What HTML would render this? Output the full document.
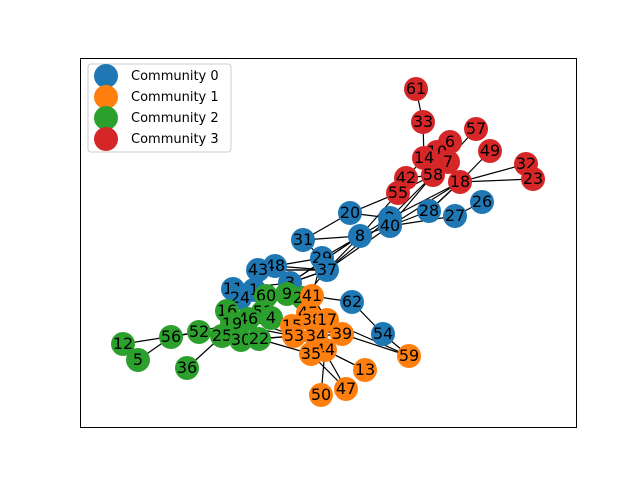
<!DOCTYPE html>
<html><head><meta charset="utf-8"><style>
body{margin:0;background:#fff;}
svg{display:block;font-family:"DejaVu Sans","Liberation Sans",sans-serif;}
</style></head><body>
<svg id="chart" width="640" height="480">
<rect x="0" y="0" width="640" height="480" fill="#fff"/>
<rect x="80.5" y="58.5" width="496" height="369" fill="none" stroke="#000" stroke-width="1"/>
<g id="edges"></g>
<g id="nodes"></g>
<g>
<rect x="88" y="64" width="143" height="88" rx="3" fill="#fff" fill-opacity="0.8" stroke="#ccc"/>
<g id="legend"></g>
</g>
</svg>
<script>
// layout coordinates (abstract units) per node
const nodeIds = [61,33,57,6,10,49,14,7,32,58,42,23,18,55,26,20,28,27,2,40,8,31,29,48,37,43,3,11,1,24,62,54,60,9,21,51,4,16,46,19,52,56,25,30,22,12,5,36,41,45,38,17,15,39,53,34,44,35,13,59,50,47];
const nodeX = [416,423,476,450,437,490,424,448,526,433,406,533,460,398,482,350,429,455,390,390,360,303,322,275,327,258,290,233,254,240,352,383,266,287,303,263,271,227,248,232,199,171,222,241,259,123,138,187,312,308,312,327,292,342,294,316,325,311,365,409,321,346];
const nodeY = [89,122,129,142,152,151,158,162,164,175,178,179,182,193,202,213,211,216,218,226,236,240,258,266,270,270,283,289,290,298,302,334,296,294,298,312,318,311,319,324,332,337,336,340,339,344,360,368,296,313,320,320,326,334,336,336,350,354,370,356,395,389];
const nodeCommunity = [3,3,3,3,3,3,3,3,3,3,3,3,3,3,0,0,0,0,0,0,0,0,0,0,0,0,0,0,0,0,0,0,2,2,2,2,2,2,2,2,2,2,2,2,2,2,2,2,1,1,1,1,1,1,1,1,1,1,1,1,1,1];
const edgeSource = [61,33,57,49,32,23,18,18,58,58,42,55,55,26,28,20,20,8,8,8,40,2,31,29,48,43,3,54,54,62,39,13,50,47,47,12,5,56,36,52,25,16,19,10,6,14,7,18,58,2,40,8,37,37,29,3,1,11,24,60,9,21,41,45,15,53,53,30,22,22,34,44,38,17,46,51,4,35,42,28,40,3,37,1];
const edgeTarget = [33,14,58,18,18,18,28,40,40,2,14,20,8,27,40,2,31,31,29,37,37,37,29,48,37,37,37,62,59,41,59,44,44,35,34,52,56,52,25,22,22,53,53,58,58,58,58,2,55,8,8,3,3,21,41,41,41,3,25,9,21,45,17,38,39,44,15,53,53,35,39,13,39,59,52,15,39,44,58,18,27,8,43,48];
const commColors = ["#1f77b4","#ff7f0e","#2ca02c","#d62728"];
const commLabels = ["Community 0","Community 1","Community 2","Community 3"];
const xDomain=[0,640], yDomain=[0,480];
function sx(v){return (v-xDomain[0])/(xDomain[1]-xDomain[0])*640;}
function sy(v){return (v-yDomain[0])/(yDomain[1]-yDomain[0])*480;}
const NS="http://www.w3.org/2000/svg";
const eg=document.getElementById('edges'), ng=document.getElementById('nodes'), lg=document.getElementById('legend');
function idx(id){return nodeIds.indexOf(id);}
for(let k=0;k<edgeSource.length;k++){
  const a=idx(edgeSource[k]), b=idx(edgeTarget[k]);
  if(a<0||b<0) continue;
  const l=document.createElementNS(NS,'line');
  l.setAttribute('x1',sx(nodeX[a]));l.setAttribute('y1',sy(nodeY[a]));
  l.setAttribute('x2',sx(nodeX[b]));l.setAttribute('y2',sy(nodeY[b]));
  l.setAttribute('stroke','#000');l.setAttribute('stroke-width','1.2');
  
  
  eg.appendChild(l);
}
for(let i=0;i<nodeIds.length;i++){
  const g=document.createElementNS(NS,'g');
  
  
  const c=document.createElementNS(NS,'circle');
  c.setAttribute('cx',sx(nodeX[i]));c.setAttribute('cy',sy(nodeY[i]));c.setAttribute('r',12);
  c.setAttribute('fill',commColors[nodeCommunity[i]]);
  const t=document.createElementNS(NS,'text');
  t.setAttribute('x',sx(nodeX[i]));t.setAttribute('y',sy(nodeY[i])+5);
  t.setAttribute('text-anchor','middle');t.setAttribute('font-size','16');t.setAttribute('fill','#000');
  t.textContent=nodeIds[i];
  g.appendChild(c);g.appendChild(t);ng.appendChild(g);
}
for(let j=0;j<commLabels.length;j++){
  const g=document.createElementNS(NS,'g');
  
  
  const c=document.createElementNS(NS,'circle');
  c.setAttribute('cx',106);c.setAttribute('cy',76+j*21);c.setAttribute('r',12);
  c.setAttribute('fill',commColors[j]);
  const t=document.createElementNS(NS,'text');
  t.setAttribute('x',131);t.setAttribute('y',80+j*21);t.setAttribute('font-size','13');
  t.textContent=commLabels[j];
  g.appendChild(c);g.appendChild(t);lg.appendChild(g);
}
</script>
</body></html>
